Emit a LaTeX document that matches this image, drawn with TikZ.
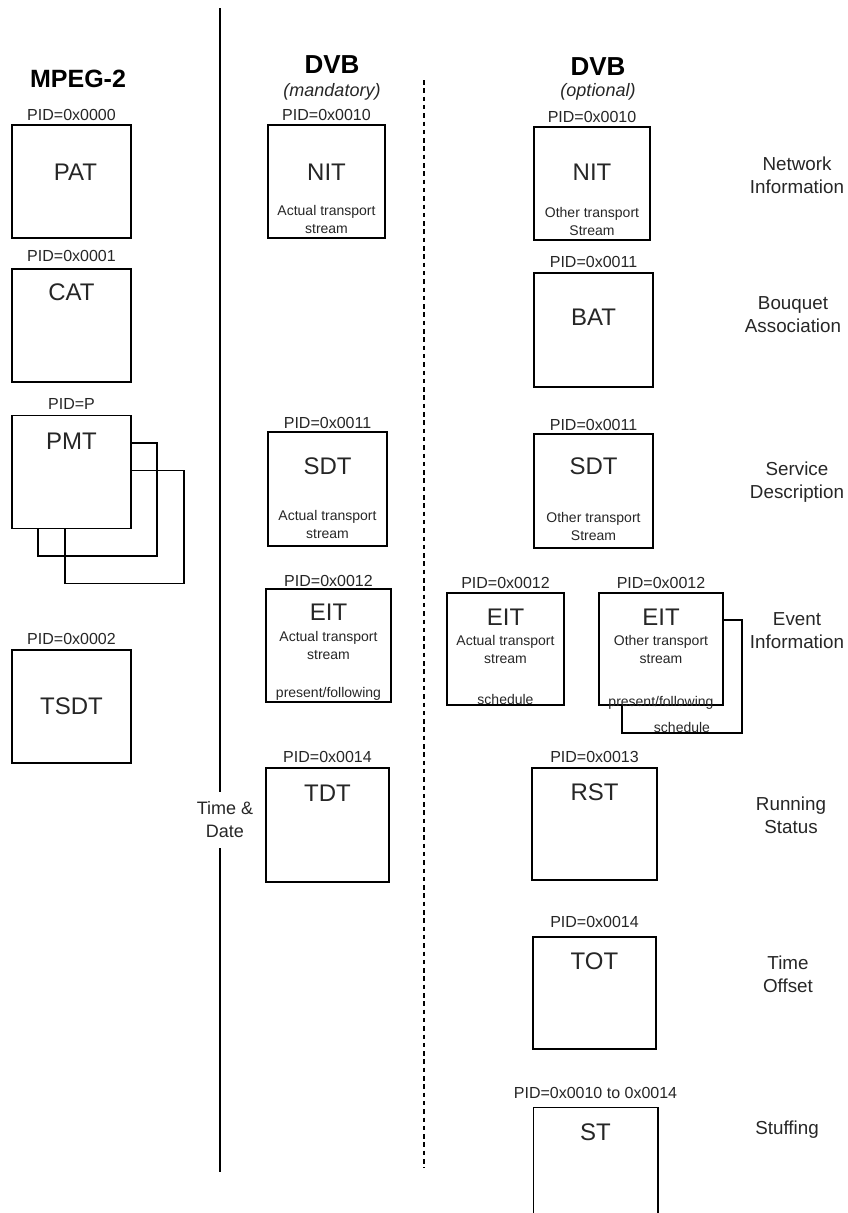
\documentclass[tikz,border=0pt]{standalone}
\usepackage{fontspec}
\setmainfont{Liberation Sans}
\usetikzlibrary{positioning}

\begin{document}
\begin{tikzpicture}[x=1pt, y=-1pt,
  tablebox/.style={rectangle, draw, line width=1.5pt, minimum width=119pt, minimum height=113pt, inner sep=0pt},
  tname/.style={inner sep=0pt, text height=17.3pt, text depth=0pt, font=\fontsize{24}{28}\selectfont, text=black!85},
  pid/.style={inner sep=0pt, text depth=0pt, font=\fontsize{16}{19}\selectfont, text=black!85},
  subtext/.style={inner sep=0pt, align=center, font=\fontsize{14}{18}\selectfont, text=black!85},
  sidelabel/.style={inner sep=0pt, align=center, font=\fontsize{18.8}{23}\selectfont, text=black!85},
  colhead/.style={inner sep=0pt, font=\fontsize{26}{30}\selectfont\bfseries},
  colkind/.style={inner sep=0pt, font=\fontsize{18}{22}\selectfont\itshape, text=black!85},
  divider/.style={line width=1.5pt},
  dotdivider/.style={line width=2pt, dash pattern=on 4.5pt off 3.8pt}
]
\useasboundingbox (0,0) rectangle (847,1213);

% MPEG-2
\node[colhead, font=\fontsize{25}{30}\selectfont\bfseries] (mpeg) at (78,79) {MPEG-2};
\node[tablebox] (pat) at (71.5,181.5) {};
\node[pid, above=4pt of pat] (patpid) {PID=0x0000};
\node[tname] (patname) at ([xshift=4pt, yshift=-48pt]pat.north) {PAT};

\node[tablebox] (cat) at (71.5,325.5) {};
\node[pid, above=7pt of cat] (catpid) {PID=0x0001};
\node[tname] (catname) at ([yshift=-24pt]cat.north) {CAT};

\node[tablebox] (pmtc) at (124.5,527) {};
\node[tablebox] (pmtb) at (97.5,499.5) {};
\node[tablebox, fill=white] (pmt) at (71.5,472) {};
\node[pid, above=5pt of pmt] (pmtpid) {PID=P};
\node[tname] (pmtname) at ([yshift=-26pt]pmt.north) {PMT};

\node[tablebox] (tsdt) at (71.5,706.5) {};
\node[pid, above=5pt of tsdt] (tsdtpid) {PID=0x0002};
\node[tname] (tsdtname) at ([yshift=-57pt]tsdt.north) {TSDT};

% DVB mandatory
\node[colhead] (dvbm) at (332,65) {DVB};
\node[colkind] (mand) at (332,92) {(mandatory)};

\node[tablebox, minimum width=117pt] (nit) at (326.5,181.5) {};
\node[pid, above=4pt of nit] (nitpid) {PID=0x0010};
\node[tname] (nitname) at ([yshift=-48pt]nit.north) {NIT};
\node[subtext] (nitsub) at ([yshift=-95pt]nit.north) {Actual transport\\stream};

\node[tablebox, minimum height=114pt] (sdt) at (327.5,489) {};
\node[pid, above=3pt of sdt] (sdtpid) {PID=0x0011};
\node[tname] (sdtname) at ([yshift=-35pt]sdt.north) {SDT};
\node[subtext] (sdtsub) at ([yshift=-93pt]sdt.north) {Actual transport\\stream};

\node[tablebox, minimum width=125pt] (eit) at (328.5,645.5) {};
\node[pid, above=1.5pt of eit] (eitpid) {PID=0x0012};
\node[tname] (eitname) at ([yshift=-24pt]eit.north) {EIT};
\node[subtext] (eitsub) at ([yshift=-57pt]eit.north) {Actual transport\\stream};
\node[subtext] (eitpf) at ([yshift=-106pt]eit.north) {present/following};

\node[tablebox, minimum width=123pt, minimum height=114pt] (tdt) at (327.5,825) {};
\node[pid, above=5pt of tdt] (tdtpid) {PID=0x0014};
\node[tname] (tdtname) at ([yshift=-26pt]tdt.north) {TDT};

% DVB optional
\node[colhead] (dvbo) at (598,67) {DVB};
\node[colkind] (opt) at (598,92) {(optional)};

\node[tablebox, minimum width=116pt] (nito) at (592,183.5) {};
\node[pid, above=4pt of nito] (nitopid) {PID=0x0010};
\node[tname] (nitoname) at ([yshift=-46pt]nito.north) {NIT};
\node[subtext] (nitosub) at ([yshift=-95.5pt]nito.north) {Other transport\\Stream};

\node[tablebox, minimum height=114pt] (bat) at (593.5,330) {};
\node[pid, above=5pt of bat] (batpid) {PID=0x0011};
\node[tname] (batname) at ([yshift=-45pt]bat.north) {BAT};

\node[tablebox, minimum height=114pt] (sdto) at (593.5,491) {};
\node[pid, above=3pt of sdto] (sdtopid) {PID=0x0011};
\node[tname] (sdtoname) at ([yshift=-33pt]sdto.north) {SDT};
\node[subtext] (sdtosub) at ([yshift=-93pt]sdto.north) {Other transport\\Stream};

\node[tablebox, minimum width=117pt, minimum height=112pt] (eita) at (505.5,649) {};
\node[pid, above=4pt of eita] (eitapid) {PID=0x0012};
\node[tname] (eitaname) at ([yshift=-25pt]eita.north) {EIT};
\node[subtext] (eitasub) at ([yshift=-57pt]eita.north) {Actual transport\\stream};
\node[subtext] (eitasched) at ([yshift=-107pt]eita.north) {schedule};

\node[tablebox, minimum width=120pt] (eitob) at (682,676.5) {};
\node[tablebox, minimum width=124pt, minimum height=112pt, fill=white] (eito) at (661,649) {};
\node[pid, above=4pt of eito] (eitopid) {PID=0x0012};
\node[tname] (eitoname) at ([yshift=-25pt]eito.north) {EIT};
\node[subtext] (eitosub) at ([yshift=-57pt]eito.north) {Other transport\\stream};
\node[subtext] (eitopf) at ([yshift=-111pt]eito.north) {present/following};
\node[subtext] (eitobsched) at ([yshift=-108pt]eitob.north) {schedule};

\node[tablebox, minimum width=125pt, minimum height=112pt] (rst) at (594.5,824) {};
\node[pid, above=5pt of rst] (rstpid) {PID=0x0013};
\node[tname] (rstname) at ([yshift=-25pt]rst.north) {RST};

\node[tablebox, minimum width=123pt, minimum height=112pt] (tot) at (594.5,993) {};
\node[pid, above=9pt of tot] (totpid) {PID=0x0014};
\node[tname] (totname) at ([yshift=-25pt]tot.north) {TOT};

\node[tablebox, draw=none, minimum width=123pt, minimum height=105pt] (st) at (595.5,1160.5) {};
\draw[line width=1.5pt] (st.south west) -- (st.north west) -- (st.north east) -- (st.south east);
\node[pid, above=9pt of st] (stpid) {PID=0x0010 to 0x0014};
\node[tname] (stname) at ([yshift=-25pt]st.north) {ST};

% descriptions
\node[sidelabel] (netinfo) at (797,175.5) {Network\\Information};
\node[sidelabel] (bouquet) at (793,315) {Bouquet\\Association};
\node[sidelabel] (service) at (797,482) {Service\\Description};
\node[sidelabel] (event) at (797,631) {Event\\Information};
\node[sidelabel] (running) at (791,815) {Running\\Status};
\node[sidelabel] (offset) at (788,974) {Time\\Offset};
\node[sidelabel] (stuffing) at (787,1130) {Stuffing};

% dividers
\coordinate (vtop) at (220,8);
\coordinate (vbot) at (220,1172);
\node[sidelabel, font=\fontsize{18}{23}\selectfont, inner xsep=2pt, inner ysep=10pt] (td) at (225,820) {Time \&\\Date};
\draw[divider] (vtop) -- (td.north -| vtop);
\draw[divider] (td.south -| vtop) -- (vbot);
\coordinate (dtop) at (424,80);
\coordinate (dbot) at (424,1168);
\draw[dotdivider] (dtop) -- (dbot);
\end{tikzpicture}
\end{document}
